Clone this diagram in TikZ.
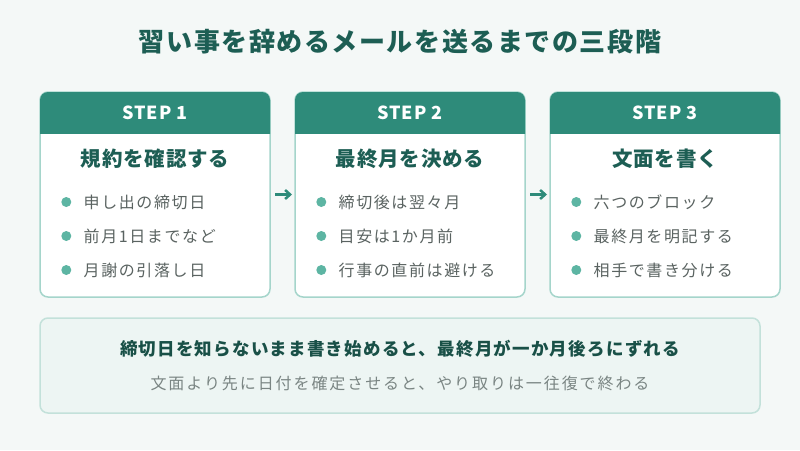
\documentclass[tikz,border=0pt]{standalone}
\usepackage{fontspec}
\setmainfont{Noto Sans CJK JP}
\usepackage{xcolor}
\usepackage{tikz}
\usetikzlibrary{positioning,calc,arrows.meta}
\definecolor{PageMint}{HTML}{F4F8F7}
\definecolor{HeadTeal}{HTML}{2E8B7A}
\definecolor{DeepTeal}{HTML}{1D5E54}
\definecolor{BoxLine}{HTML}{A5D5CB}
\definecolor{DotTeal}{HTML}{5DB5A3}
\definecolor{ItemGray}{HTML}{5A6361}
\definecolor{NoteFill}{HTML}{EDF5F3}
\definecolor{NoteLine}{HTML}{C3E1DA}
\definecolor{NoteGray}{HTML}{7A8583}

\begin{document}
\begin{tikzpicture}[x=1pt,y=-1pt,
    stepbox/.style={draw=BoxLine, line width=1.5pt, fill=white, rounded corners=8pt,
        minimum width=230pt, minimum height=205pt, inner sep=0pt, outer sep=0pt},
    stephead/.style={text=white, font=\fontsize{18}{21}\selectfont\bfseries\addfontfeatures{LetterSpace=6}},
    steptitle/.style={text=DeepTeal, font=\fontsize{20.5}{23}\selectfont\bfseries\addfontfeatures{LetterSpace=4}},
    item/.style={anchor=west, inner sep=0pt, text=ItemGray,
        font=\fontsize{16}{18}\selectfont\addfontfeatures{LetterSpace=10}},
    dot/.style={circle, fill=DotTeal, minimum size=10pt, inner sep=0pt},
    flowarrow/.style={draw=HeadTeal, line width=2.5pt, shorten <=5pt, shorten >=3pt,
        -{Straight Barb[length=5pt,width=9pt]}}
]
\useasboundingbox[fill=PageMint] (0,0) rectangle (800,450);

% titre
\node[text=DeepTeal, font=\fontsize{26}{30}\selectfont\bfseries\addfontfeatures{LetterSpace=6}]
    (title) at (400,42) {習い事を辞めるメールを送るまでの三段階};

% trois cartes
\node[stepbox] (box1) at (155,194.5) {};
\node[stepbox] (box2) at (410,194.5) {};
\node[stepbox] (box3) at (665,194.5) {};

\begin{scope}
    \clip (box1.north west) rectangle ($(box1.north east)+(0,41)$);
    \fill[HeadTeal, rounded corners=8pt] (box1.north west) rectangle (box1.south east);
\end{scope}
\begin{scope}
    \clip (box2.north west) rectangle ($(box2.north east)+(0,41)$);
    \fill[HeadTeal, rounded corners=8pt] (box2.north west) rectangle (box2.south east);
\end{scope}
\begin{scope}
    \clip (box3.north west) rectangle ($(box3.north east)+(0,41)$);
    \fill[HeadTeal, rounded corners=8pt] (box3.north west) rectangle (box3.south east);
\end{scope}

\node[stephead] (head1) at ($(box1.north)+(0,20.5)$) {STEP 1};
\node[stephead] (head2) at ($(box2.north)+(0,20.5)$) {STEP 2};
\node[stephead] (head3) at ($(box3.north)+(0,20.5)$) {STEP 3};

\node[steptitle] (title1) at ($(box1.north)+(0,67)$) {規約を確認する};
\node[steptitle] (title2) at ($(box2.north)+(0,67)$) {最終月を決める};
\node[steptitle] (title3) at ($(box3.north)+(0,67)$) {文面を書く};

% STEP 1
\node[item] (item11) at ($(box1.north west)+(43.5,110)$) {申し出の締切日};
\node[item] (item12) at ($(box1.north west)+(43.5,144)$) {前月1日までなど};
\node[item] (item13) at ($(box1.north west)+(43.5,178)$) {月謝の引落し日};
\node[dot, left=12pt of item11] (dot11) {};
\node[dot, left=12pt of item12] (dot12) {};
\node[dot, left=12pt of item13] (dot13) {};

% STEP 2
\node[item] (item21) at ($(box2.north west)+(43.5,110)$) {締切後は翌々月};
\node[item] (item22) at ($(box2.north west)+(43.5,144)$) {目安は1か月前};
\node[item] (item23) at ($(box2.north west)+(43.5,178)$) {行事の直前は避ける};
\node[dot, left=12pt of item21] (dot21) {};
\node[dot, left=12pt of item22] (dot22) {};
\node[dot, left=12pt of item23] (dot23) {};

% STEP 3
\node[item] (item31) at ($(box3.north west)+(43.5,110)$) {六つのブロック};
\node[item] (item32) at ($(box3.north west)+(43.5,144)$) {最終月を明記する};
\node[item] (item33) at ($(box3.north west)+(43.5,178)$) {相手で書き分ける};
\node[dot, left=12pt of item31] (dot31) {};
\node[dot, left=12pt of item32] (dot32) {};
\node[dot, left=12pt of item33] (dot33) {};

% fleches
\draw[flowarrow] (box1.east) -- (box2.west);
\draw[flowarrow] (box2.east) -- (box3.west);

% note du bas
\node[draw=NoteLine, line width=1.5pt, fill=NoteFill, rounded corners=8pt,
    minimum width=720pt, minimum height=95pt] (note) at (400,365.5) {};
\node[text=DeepTeal!85!black, font=\fontsize{17.5}{20}\selectfont\bfseries\addfontfeatures{LetterSpace=7}]
    (warn) at (400,349) {締切日を知らないまま書き始めると、最終月が一か月後ろにずれる};
\node[text=NoteGray, font=\fontsize{16}{19}\selectfont\addfontfeatures{LetterSpace=12}]
    (tip) at (400,383) {文面より先に日付を確定させると、やり取りは一往復で終わる};
\end{tikzpicture}
\end{document}
